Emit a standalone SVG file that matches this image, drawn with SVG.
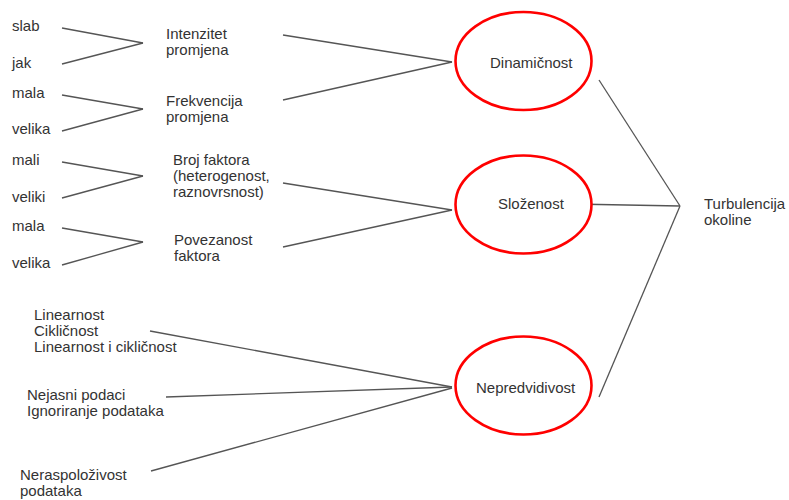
<svg xmlns="http://www.w3.org/2000/svg" width="789" height="500" viewBox="0 0 789 500">
  <style>
    text { font-family: "Liberation Sans", Arial, sans-serif; font-size: 15px; fill: #333333; }
    .link { stroke: #555555; stroke-width: 1.3; fill: none; }
    .node { fill: #ffffff; stroke: #ff0000; stroke-width: 2.6; }
  </style>
  <rect width="789" height="500" fill="#ffffff"/>

  <!-- connectors -->
  <g id="connectors">
    <!-- attribute pairs into factors -->
    <line class="link" x1="62" y1="28" x2="143" y2="43"/>
    <line class="link" x1="62" y1="64" x2="143" y2="43"/>
    <line class="link" x1="62" y1="95" x2="143" y2="109"/>
    <line class="link" x1="62" y1="131" x2="143" y2="109"/>
    <line class="link" x1="62" y1="162" x2="143" y2="176"/>
    <line class="link" x1="62" y1="198" x2="143" y2="176"/>
    <line class="link" x1="62" y1="228" x2="143" y2="242"/>
    <line class="link" x1="62" y1="265" x2="143" y2="242"/>
    <!-- factors into dimensions -->
    <line class="link" x1="283" y1="35" x2="452" y2="62"/>
    <line class="link" x1="283" y1="100" x2="452" y2="62"/>
    <line class="link" x1="283" y1="183" x2="452" y2="210"/>
    <line class="link" x1="283" y1="247" x2="452" y2="210"/>
    <line class="link" x1="150" y1="331" x2="452" y2="387"/>
    <line class="link" x1="166" y1="397" x2="452" y2="387"/>
    <line class="link" x1="151" y1="471" x2="452" y2="388"/>
    <!-- dimensions into turbulence -->
    <line class="link" x1="599" y1="80" x2="680" y2="206"/>
    <line class="link" x1="572" y1="204" x2="680" y2="206"/>
    <line class="link" x1="599" y1="397" x2="680" y2="206"/>
  </g>

  <!-- attribute labels -->
  <g id="n-slab"><text x="12" y="31">slab</text></g>
  <g id="n-jak"><text x="12" y="68">jak</text></g>
  <g id="n-mala1"><text x="12" y="98">mala</text></g>
  <g id="n-velika1"><text x="12" y="134">velika</text></g>
  <g id="n-mali"><text x="12" y="165">mali</text></g>
  <g id="n-veliki"><text x="12" y="202">veliki</text></g>
  <g id="n-mala2"><text x="12" y="231">mala</text></g>
  <g id="n-velika2"><text x="12" y="268">velika</text></g>

  <!-- factor labels -->
  <g id="n-intenzitet"><text x="166" y="39">Intenzitet</text><text x="166" y="55">promjena</text></g>
  <g id="n-frekvencija"><text x="166" y="106">Frekvencija</text><text x="166" y="122">promjena</text></g>
  <g id="n-broj"><text x="173" y="165">Broj faktora</text><text x="173" y="181">(heterogenost,</text><text x="173" y="197">raznovrsnost)</text></g>
  <g id="n-povezanost"><text x="174" y="245">Povezanost</text><text x="174" y="261">faktora</text></g>
  <g id="n-linearnost"><text x="34" y="320">Linearnost</text><text x="34" y="336">Cikličnost</text><text x="34" y="352">Linearnost i cikličnost</text></g>
  <g id="n-nejasni"><text x="27" y="400">Nejasni podaci</text><text x="27" y="416">Ignoriranje podataka</text></g>
  <g id="n-neraspolozivost"><text x="20" y="480">Neraspoloživost</text><text x="20" y="496">podataka</text></g>

  <!-- dimensions -->
  <g id="n-dinamicnost">
    <ellipse class="node" cx="523.5" cy="61" rx="68" ry="49"/>
    <text x="490" y="68">Dinamičnost</text>
  </g>
  <g id="n-slozenost">
    <ellipse class="node" cx="523.5" cy="204.5" rx="68" ry="49"/>
    <text x="498" y="209">Složenost</text>
  </g>
  <g id="n-nepredvidivost">
    <ellipse class="node" cx="523.5" cy="385.5" rx="68" ry="49"/>
    <text x="476" y="393">Nepredvidivost</text>
  </g>

  <g id="n-turbulencija"><text x="704" y="209">Turbulencija</text><text x="704" y="225">okoline</text></g>
</svg>
